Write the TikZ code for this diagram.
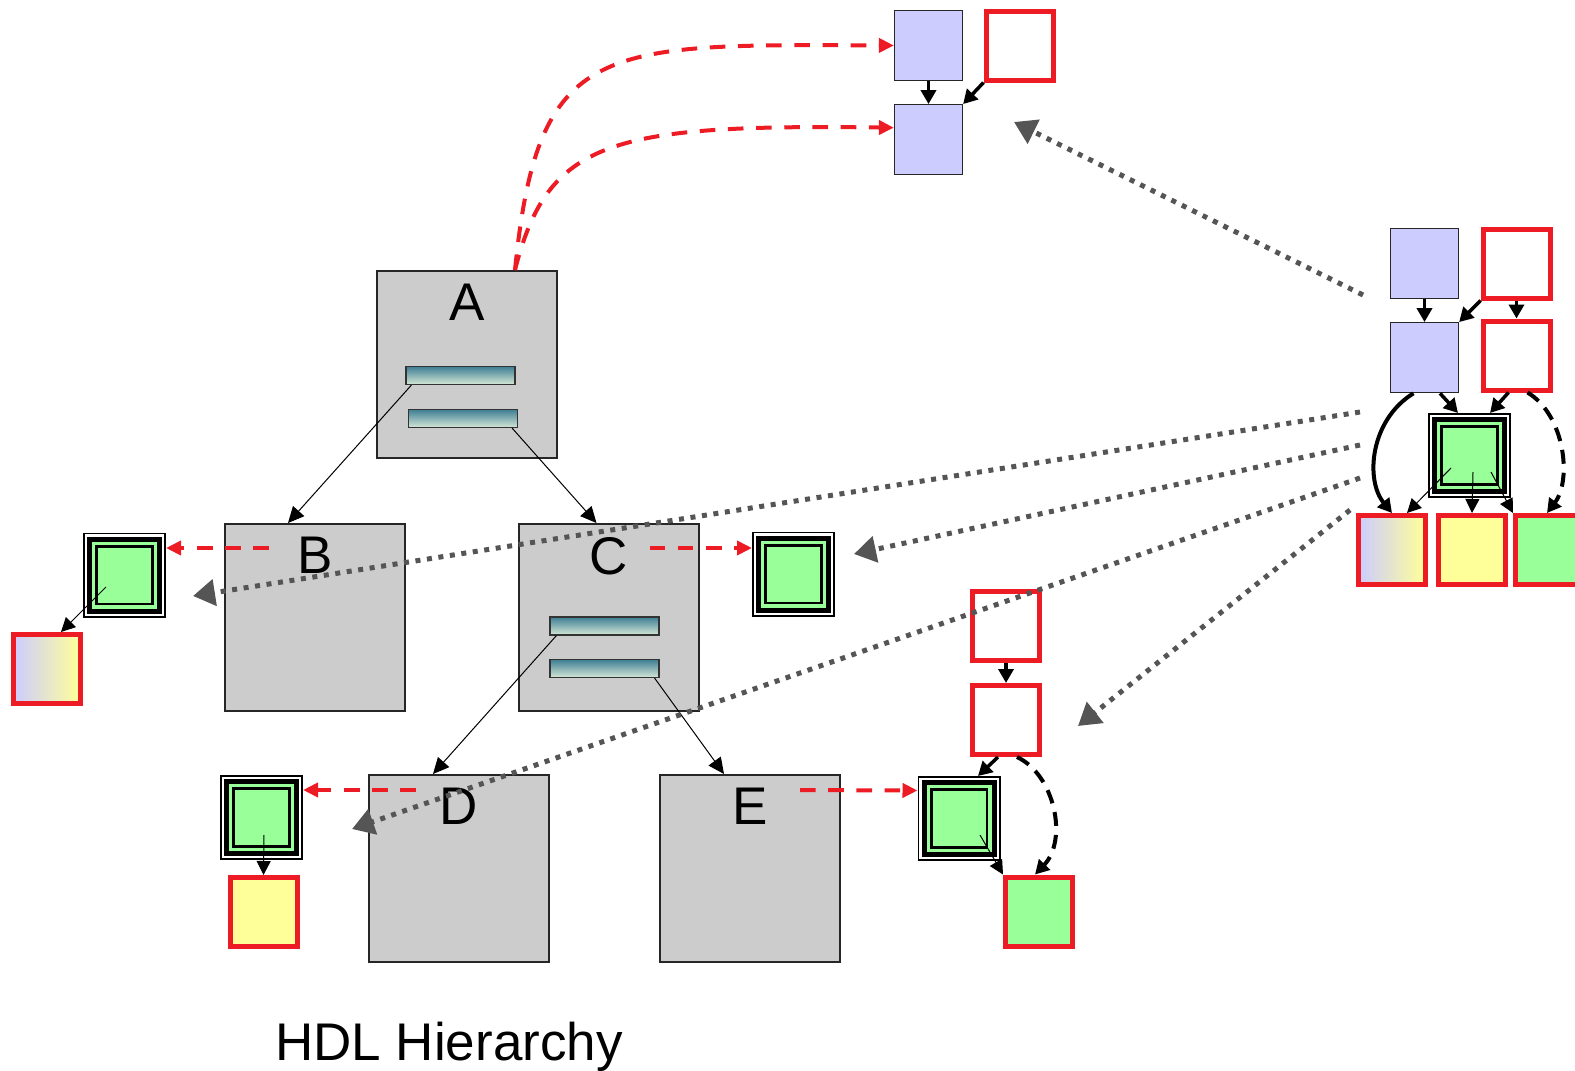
\documentclass[tikz,border=0pt]{standalone}
\usepackage{fontspec}
\setmainfont{Liberation Sans}
\usetikzlibrary{positioning,arrows.meta}

\definecolor{boxgray}{HTML}{CCCCCC}
\definecolor{regblue}{HTML}{CCCCFF}
\definecolor{modgreen}{HTML}{99FF99}
\definecolor{valyellow}{HTML}{FFFF99}
\definecolor{sigred}{HTML}{ED1C24}
\definecolor{dotgray}{HTML}{555555}
\definecolor{bartop}{HTML}{3E7E94}
\definecolor{barbot}{HTML}{D6E8D6}

\newcommand{\biglbl}{\fontsize{26.5}{30}\selectfont}
% one ring of a module box, #1 = inset from the border
\newcommand{\modring}[2]{\fill[#2] ([xshift=#1,yshift=-#1]path picture bounding box.north west) rectangle ([xshift=-#1,yshift=#1]path picture bounding box.south east);}

\begin{document}
\begin{tikzpicture}[
    x=0.5pt, y=-0.5pt,
    hier/.style={draw=black!85, line width=1pt, fill=boxgray,
        minimum width=90pt, minimum height=93.5pt, inner sep=0pt},
    lbl/.style={font=\biglbl, inner sep=0pt, anchor=north, yshift=-7pt},
    bar/.style={draw=black!80, line width=0.6pt, top color=bartop, bottom color=barbot,
        minimum width=54.5pt, minimum height=9pt, inner sep=0pt},
    reg/.style={draw=black!85, line width=0.6pt, fill=regblue,
        minimum width=34pt, minimum height=35pt, inner sep=0pt},
    redbox/.style={draw=sigred, line width=2.5pt, fill=white,
        minimum width=33.5pt, minimum height=34.5pt, inner sep=0pt},
    mixfill/.style={left color=regblue, right color=valyellow},
    module/.style={draw=black, line width=0.8pt, fill=white,
        minimum width=40.7pt, minimum height=41.7pt, inner sep=0pt,
        path picture={
            \modring{1.6pt}{black}
            \modring{4.1pt}{modgreen}
            \modring{5.8pt}{black}
            \modring{7.1pt}{modgreen}
        }},
    tree/.style={line width=0.5pt, -{Triangle[length=8pt,width=7.5pt]}},
    link/.style={line width=1.75pt, -{Triangle[length=7pt,width=7.5pt]}},
    thinlink/.style={line width=0.5pt, -{Triangle[length=7pt,width=7pt]}},
    dashpat/.style={dash pattern=on 7pt off 4.5pt},
    sigdash/.style={draw=sigred, line width=2pt, dash pattern=on 7.8pt off 6.3pt,
        -{Triangle[length=7.5pt,width=7pt]}},
    probe/.style={draw=dotgray, line width=2.5pt, dash pattern=on 2.5pt off 3.3pt,
        -{Triangle[length=11pt,width=13pt]}}
]
\useasboundingbox (0,0) rectangle (1575,1071);

% hierarchy
\node[hier, label={[lbl]north:A}] (A) at (467,364.5) {};
\node[hier, label={[lbl]north:B}] (B) at (315,617.5) {};
\node[hier, label={[lbl]north:C}] (C) at (608.5,617.5) {};
\node[hier, label={[lbl]north:D}] (D) at (459,868.5) {};
\node[hier, label={[lbl]north:E}] (E) at (750,868.5) {};

\node[bar] (A1) at (460.5,375.5) {};
\node[bar] (A2) at (463,418.5) {};
\node[bar] (C1) at (604.5,626) {};
\node[bar] (C2) at (604.5,668.5) {};

\node[font=\biglbl, anchor=base] (title) at (449,1060) {HDL Hierarchy};

% modules
\node[module] (mB) at (124.5,575) {};
\node[module] (mC) at (793.5,574) {};
\node[module] (mD) at (261.5,817.5) {};
\node[module] (mE) at (959,818.5) {};
\node[module] (mR) at (1469.5,455.5) {};

% values
\node[redbox, mixfill] (vB) at (47,669) {};
\node[redbox, fill=valyellow] (vD) at (263.5,912) {};
\node[redbox, fill=modgreen] (vE) at (1039,911.5) {};
\node[redbox, mixfill] (vR1) at (1392,550) {};
\node[redbox, fill=valyellow, right=4pt of vR1] (vR2) {};
\node[redbox, fill=modgreen, right=2.5pt of vR2] (vR3) {};

% registers
\node[reg] (t1) at (928.5,45.5) {};
\node[reg, below=11.5pt of t1] (t2) {};
\node[redbox] (tr) at (1019.5,45.5) {};
\node[reg] (r1) at (1424.5,263.5) {};
\node[reg, below=11.5pt of r1] (r2) {};
\node[redbox] (rr1) at (1516.5,263.5) {};
\node[redbox, below=9pt of rr1] (rr2) {};
\node[redbox] (e1) at (1006,626) {};
\node[redbox, below=10pt of e1] (e2) {};

% tree edges
\draw[tree] ([xshift=3pt]A1.south west) -- ([xshift=-13.5pt]B.north);
\draw[tree] ([xshift=-3pt]A2.south east) -- ([xshift=-6pt]C.north);
\draw[tree] ([xshift=3.5pt]C1.south west) -- ([xshift=-13pt]D.north);
\draw[tree] ([xshift=-2.5pt]C2.south east) -- ([xshift=-13pt]E.north);

% red dashed links
\draw[sigdash] ([xshift=24pt]A.north) .. controls (538,40) and (600,44) .. (t1.west);
\draw[sigdash] ([xshift=24pt]A.north) .. controls (548,140) and (610,124) .. ([yshift=6pt]t2.west);
\draw[sigdash] ([xshift=22.5pt,yshift=-12.5pt]B.north west) -- ([yshift=13.5pt]mB.east);
\draw[sigdash] ([xshift=66pt,yshift=-12.5pt]C.north west) -- ([yshift=13pt]mC.west);
\draw[sigdash] ([xshift=24pt,yshift=-8pt]D.north west) -- ([yshift=13.75pt]mD.east);
\draw[sigdash] ([xshift=70.5pt,yshift=-8pt]E.north west) -- ([yshift=14pt]mE.west);

% top group
\draw[link] (t1) -- (t2);
\draw[link] (tr.south west) -- (t2.north east);

% right group
\draw[link] (r1) -- (r2);
\draw[link] (rr1.south west) -- (r2.north east);
\draw[link] (rr1) -- (rr2);
\draw[link] ([xshift=7.75pt]r2.south) -- ([xshift=-5.75pt]mR.north);
\draw[link] ([xshift=-4pt]rr2.south) -- ([xshift=10.25pt]mR.north);
\draw[link, line width=2pt] ([xshift=-5.5pt]r2.south) .. controls (1370,420) and (1365,480) .. (vR1.north);
\draw[link, line width=2pt, dashpat] ([xshift=5.5pt]rr2.south) .. controls (1565,415) and (1572,480) .. ([xshift=-1pt]vR3.north);
\draw[thinlink] ([xshift=-9.25pt,yshift=-6.25pt]mR.center) -- ([xshift=7.5pt]vR1.north);
\draw[thinlink] ([xshift=1.75pt,yshift=-8.25pt]mR.center) -- (vR2.north);
\draw[thinlink] ([xshift=10.75pt,yshift=-8.25pt]mR.center) -- (vR3.north west);

% left modules
\draw[thinlink] ([xshift=-9.25pt,yshift=-6pt]mB.center) -- ([xshift=7pt]vB.north);
\draw[thinlink] ([xshift=1.25pt,yshift=-8.75pt]mD.center) -- (vD.north);

% E group
\draw[link] (e1) -- (e2);
\draw[link] ([xshift=-4pt]e2.south) -- ([xshift=9.5pt]mE.north);
\draw[link, line width=2pt, dashpat] ([xshift=5.5pt]e2.south) .. controls (1055,775) and (1068,840) .. ([xshift=-2pt]vE.north);
\draw[thinlink] ([xshift=10.5pt,yshift=-8.25pt]mE.center) -- (vE.north west);

% probes
\coordinate (p1s) at (1363,295);
\coordinate (p1e) at (1014,122);
\coordinate (p2s) at (1360,412);
\coordinate (p2e) at (193,596);
\coordinate (p3s) at (1360,445);
\coordinate (p3e) at (854,554);
\coordinate (p4s) at (1360,478);
\coordinate (p4e) at (352,829);
\coordinate (p5s) at (1350,510);
\coordinate (p5e) at (1078,726);
\draw[probe] (p1s) -- (p1e);
\draw[probe] (p2s) -- (p2e);
\draw[probe] (p3s) -- (p3e);
\draw[probe] (p4s) -- (p4e);
\draw[probe] (p5s) -- (p5e);

\end{tikzpicture}
\end{document}
